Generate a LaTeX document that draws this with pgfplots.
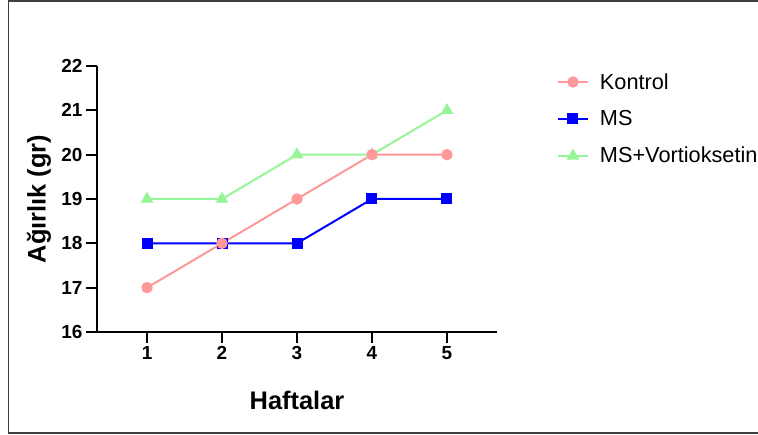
\documentclass[border=0pt]{standalone}
\usepackage{pgfplots}
\pgfplotsset{compat=1.18}
\usepackage{fontspec}
\setmainfont{Liberation Sans}
\definecolor{kon}{RGB}{255,152,152}
\definecolor{msb}{RGB}{0,0,255}
\definecolor{msv}{RGB}{150,245,150}
\begin{document}
\begin{tikzpicture}
\useasboundingbox (0,0) rectangle (758bp,435bp);
\clip (0,0) rectangle (758bp,435bp);
\fill[white] (0,0) rectangle (758bp,435bp);
\draw[line width=1.3bp, black!75] (800bp,434bp) -- (8.5bp,434bp) -- (8.5bp,2bp) -- (800bp,2bp);
\begin{axis}[
  at={(97bp,103bp)}, anchor=south west,
  scale only axis, width=400bp, height=266bp,
  xmin=0.333, xmax=5.667, ymin=16, ymax=22,
  axis lines*=left,
  axis line style={line width=1.9bp, black},
  xtick={1,2,3,4,5}, ytick={16,17,18,19,20,21,22},
  tick align=outside, major tick length=11bp,
  tick style={line width=1.9bp, black},
  /pgf/number format/assume math mode=true,
  tick label style={font=\fontsize{19}{19}\selectfont\bfseries},
  xlabel={Haftalar}, ylabel={Ağırlık (gr)},
  label style={font=\fontsize{25.5}{26}\selectfont\bfseries},
  xlabel style={at={(axis description cs:0.5,-0.256)}, anchor=center},
  ylabel style={at={(axis description cs:-0.145,0.5)}, anchor=center, rotate=0},
  legend style={at={(axis description cs:1.142,0.988)}, anchor=north west,
    draw=none, fill=none, font=\fontsize{21.8}{23}\selectfont, row sep=16bp,
    /tikz/every odd column/.append style={column sep=9bp}},
  legend cell align=left,
  reverse legend,
  legend image code/.code={\draw[mark repeat=2,mark phase=2,#1] plot coordinates {(0bp,0bp) (15bp,0bp) (30bp,0bp)};},
  clip=false,
]
\addplot[color=msv, line width=2bp, mark=triangle*, mark size=6.3bp, mark options={solid, fill=msv, line width=1bp}]
  coordinates {(1,19) (2,19) (3,20) (4,20) (5,21)};
\addlegendentry{MS+Vortioksetin}
\addplot[color=msb, line width=2bp, mark=square*, mark size=5bp, mark options={solid, fill=msb, line width=1bp}]
  coordinates {(1,18) (2,18) (3,18) (4,19) (5,19)};
\addlegendentry{MS}
\addplot[color=kon, line width=2bp, mark=*, mark size=5.2bp, mark options={solid, fill=kon, line width=1bp}]
  coordinates {(1,17) (2,18) (3,19) (4,20) (5,20)};
\addlegendentry{Kontrol}
\end{axis}
\end{tikzpicture}
\end{document}
